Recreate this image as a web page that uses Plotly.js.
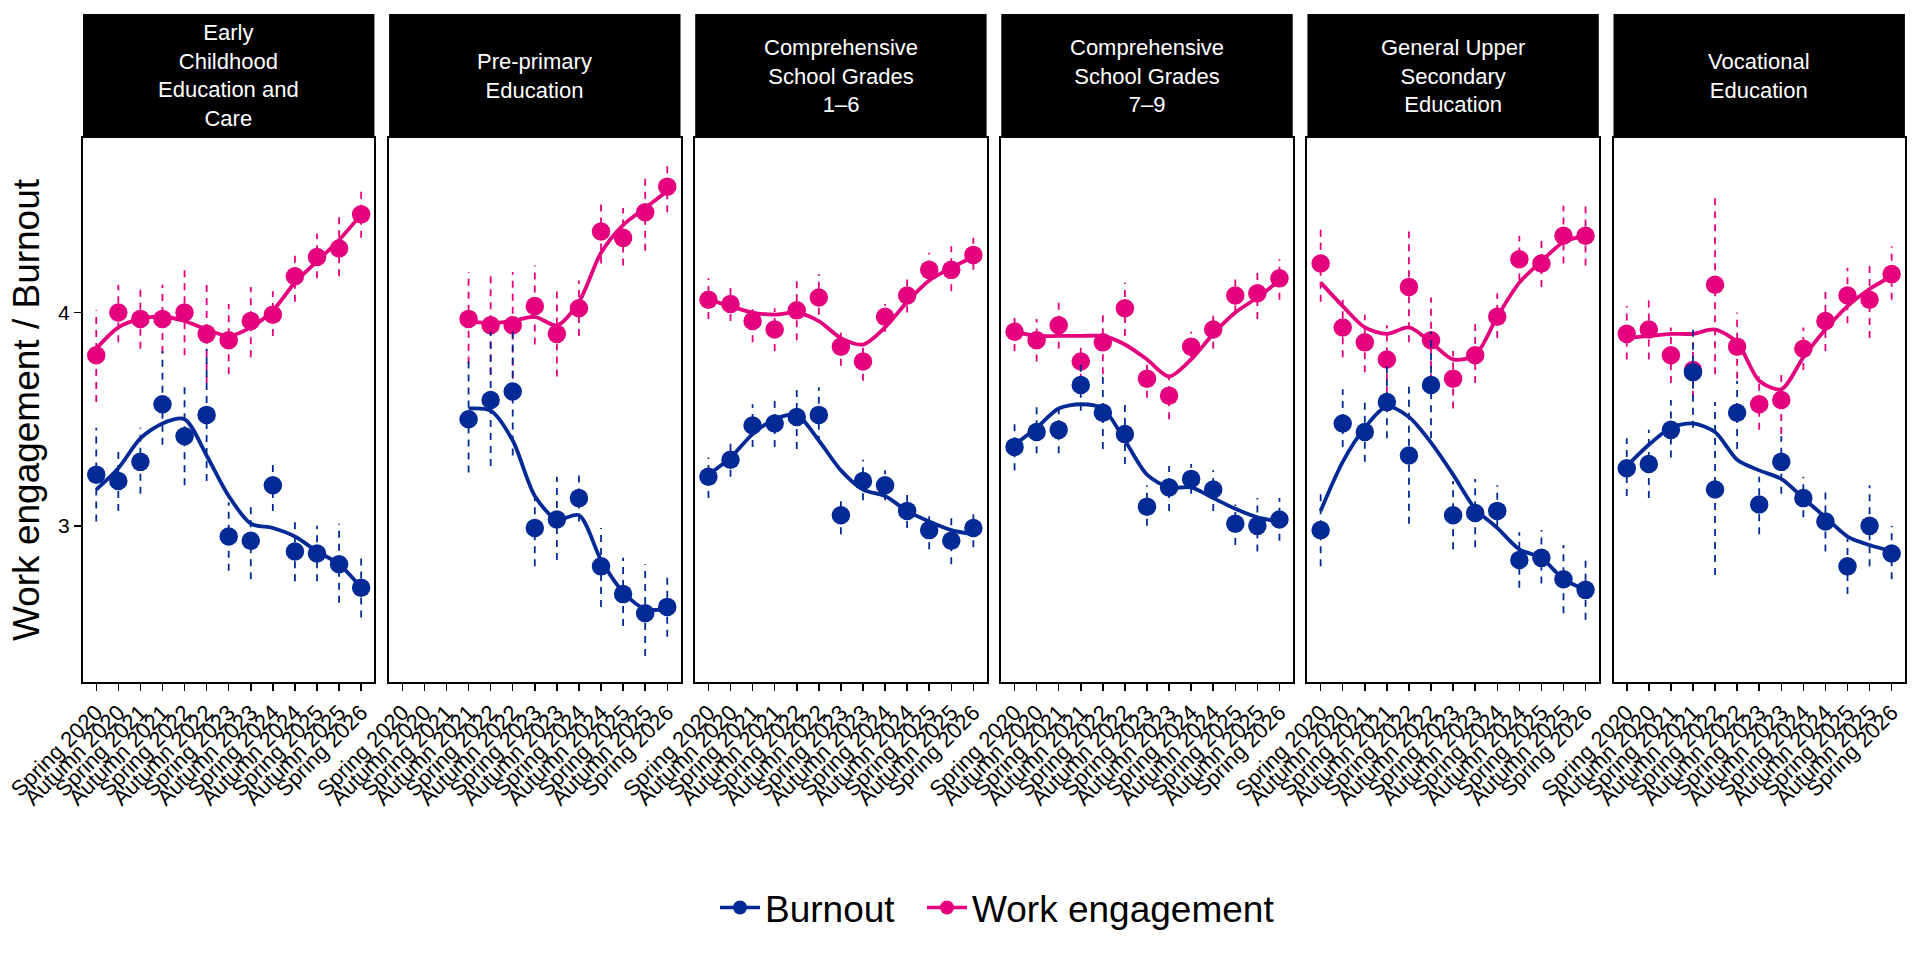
<!DOCTYPE html>
<html>
<head>
<meta charset="utf-8">
<script src="https://cdn.plot.ly/plotly-3.0.1.min.js"></script>
<style>
  html, body { margin: 0; padding: 0; background: #fff; }
  #chart { width: 1920px; height: 960px; }
</style>
</head>
<body>
<div id="chart"></div>
<script>
"use strict";

// x categories, shared by every panel
var seasons = ["Spring 2020", "Autumn 2020", "Spring 2021", "Autumn 2021", "Spring 2022", "Autumn 2022",
    "Spring 2023", "Autumn 2023", "Spring 2024", "Autumn 2024", "Spring 2025", "Autumn 2025", "Spring 2026"];

// facet titles (strip labels)
var panelNames = ["Early<br>Childhood<br>Education and<br>Care", "Pre-primary<br>Education",
    "Comprehensive<br>School Grades<br>1–6", "Comprehensive<br>School Grades<br>7–9",
    "General Upper<br>Secondary<br>Education", "Vocational<br>Education"];

var seriesNames = ["Burnout", "Work engagement"];

// Burnout: one row per panel
var burnoutMean = [
    [3.24, 3.21, 3.30, 3.57, 3.42, 3.52, 2.95, 2.93, 3.19, 2.88, 2.87, 2.82, 2.71],
    [null, null, null, 3.50, 3.59, 3.63, 2.99, 3.03, 3.13, 2.81, 2.68, 2.59, 2.62],
    [3.23, 3.31, 3.47, 3.48, 3.51, 3.52, 3.05, 3.21, 3.19, 3.07, 2.98, 2.93, 2.99],
    [3.37, 3.44, 3.45, 3.66, 3.53, 3.43, 3.09, 3.18, 3.22, 3.17, 3.01, 3.00, 3.03],
    [2.98, 3.48, 3.44, 3.58, 3.33, 3.66, 3.05, 3.06, 3.07, 2.84, 2.85, 2.75, 2.70],
    [3.27, 3.29, 3.45, 3.72, 3.17, 3.53, 3.10, 3.30, 3.13, 3.02, 2.81, 3.00, 2.87]
];
var burnoutLow = [
    [3.02, 3.07, 3.15, 3.38, 3.19, 3.21, 2.79, 2.75, 3.07, 2.74, 2.74, 2.64, 2.57],
    [null, null, null, 3.25, 3.28, 3.33, 2.81, 2.84, 3.02, 2.62, 2.53, 2.39, 2.48],
    [3.13, 3.23, 3.37, 3.37, 3.36, 3.39, 2.96, 3.12, 3.12, 2.99, 2.89, 2.82, 2.90],
    [3.26, 3.34, 3.34, 3.54, 3.36, 3.29, 3.00, 3.07, 3.15, 3.07, 2.91, 2.88, 2.93],
    [2.81, 3.37, 3.30, 3.41, 3.01, 3.41, 2.89, 2.90, 3.00, 2.71, 2.73, 2.59, 2.56],
    [3.14, 3.13, 3.32, 3.46, 2.77, 3.36, 2.96, 3.15, 3.04, 2.88, 2.68, 2.81, 2.75]
];
var burnoutHigh = [
    [3.46, 3.37, 3.46, 3.82, 3.66, 3.83, 3.11, 3.11, 3.30, 3.03, 3.00, 3.01, 2.86],
    [null, null, null, 3.80, 3.91, 3.93, 3.15, 3.23, 3.26, 2.99, 2.85, 2.82, 2.76],
    [3.32, 3.40, 3.57, 3.60, 3.66, 3.65, 3.13, 3.31, 3.26, 3.16, 3.07, 3.05, 3.08],
    [3.49, 3.56, 3.57, 3.77, 3.72, 3.57, 3.19, 3.28, 3.29, 3.26, 3.10, 3.13, 3.13],
    [3.16, 3.64, 3.59, 3.76, 3.66, 3.91, 3.21, 3.22, 3.19, 2.97, 2.98, 2.91, 2.85],
    [3.41, 3.45, 3.59, 3.93, 3.58, 3.68, 3.23, 3.42, 3.23, 3.17, 2.94, 3.19, 3.00]
];
var burnoutSmooth = [
    [3.17, 3.27, 3.41, 3.48, 3.50, 3.33, 3.14, 3.01, 2.99, 2.95, 2.88, 2.82, 2.71],
    [null, null, null, 3.55, 3.54, 3.40, 3.14, 3.03, 3.05, 2.84, 2.69, 2.61, 2.61],
    [3.24, 3.32, 3.43, 3.50, 3.52, 3.40, 3.26, 3.17, 3.14, 3.07, 3.02, 2.98, 2.96],
    [3.38, 3.46, 3.55, 3.57, 3.55, 3.40, 3.24, 3.18, 3.18, 3.13, 3.08, 3.04, 3.02],
    [3.07, 3.30, 3.46, 3.56, 3.51, 3.39, 3.24, 3.08, 2.99, 2.89, 2.85, 2.75, 2.70],
    [3.28, 3.38, 3.46, 3.48, 3.44, 3.31, 3.26, 3.22, 3.13, 3.04, 2.95, 2.91, 2.88]
];

// Work engagement: one row per panel
var engageMean = [
    [3.80, 4.00, 3.97, 3.97, 4.00, 3.90, 3.87, 3.96, 3.99, 4.17, 4.26, 4.30, 4.46],
    [null, null, null, 3.97, 3.94, 3.94, 4.03, 3.90, 4.02, 4.38, 4.35, 4.47, 4.59],
    [4.06, 4.04, 3.96, 3.92, 4.01, 4.07, 3.84, 3.77, 3.98, 4.08, 4.20, 4.20, 4.27],
    [3.91, 3.87, 3.94, 3.77, 3.86, 4.02, 3.69, 3.61, 3.84, 3.92, 4.08, 4.09, 4.16],
    [4.23, 3.93, 3.86, 3.78, 4.12, 3.87, 3.69, 3.80, 3.98, 4.25, 4.23, 4.36, 4.36],
    [3.90, 3.92, 3.80, 3.73, 4.13, 3.84, 3.57, 3.59, 3.83, 3.96, 4.08, 4.06, 4.18]
];
var engageLow = [
    [3.58, 3.86, 3.83, 3.81, 3.80, 3.67, 3.71, 3.79, 3.89, 4.05, 4.16, 4.17, 4.35],
    [null, null, null, 3.76, 3.71, 3.69, 3.85, 3.70, 3.89, 4.23, 4.22, 4.29, 4.47],
    [3.97, 3.96, 3.86, 3.82, 3.87, 3.99, 3.75, 3.68, 3.91, 4.00, 4.15, 4.10, 4.20],
    [3.82, 3.77, 3.83, 3.68, 3.71, 3.89, 3.60, 3.50, 3.78, 3.83, 4.00, 3.97, 4.06],
    [4.05, 3.79, 3.72, 3.62, 3.86, 3.68, 3.55, 3.67, 3.88, 4.15, 4.12, 4.23, 4.22],
    [3.78, 3.78, 3.67, 3.60, 3.71, 3.69, 3.45, 3.43, 3.73, 3.82, 3.95, 3.88, 4.06]
];
var engageHigh = [
    [4.01, 4.13, 4.12, 4.13, 4.20, 4.13, 4.04, 4.12, 4.10, 4.29, 4.37, 4.45, 4.58],
    [null, null, null, 4.19, 4.17, 4.19, 4.22, 4.10, 4.15, 4.53, 4.49, 4.65, 4.71],
    [4.16, 4.12, 4.04, 4.02, 4.16, 4.18, 3.92, 3.84, 4.04, 4.17, 4.28, 4.31, 4.35],
    [3.99, 3.97, 4.05, 3.86, 4.01, 4.14, 3.78, 3.70, 3.91, 4.00, 4.17, 4.21, 4.25],
    [4.40, 4.06, 3.99, 3.94, 4.38, 4.07, 3.82, 3.95, 4.09, 4.36, 4.35, 4.50, 4.50],
    [4.03, 4.06, 3.93, 3.86, 4.55, 4.00, 3.70, 3.73, 3.93, 4.11, 4.21, 4.24, 4.31]
];
var engageSmooth = [
    [3.83, 3.93, 3.97, 3.98, 3.96, 3.92, 3.89, 3.93, 4.01, 4.14, 4.24, 4.34, 4.46],
    [null, null, null, 3.96, 3.95, 3.96, 3.98, 3.94, 4.05, 4.28, 4.41, 4.49, 4.57],
    [4.06, 4.03, 4.00, 3.99, 4.00, 3.96, 3.88, 3.85, 3.93, 4.05, 4.15, 4.21, 4.26],
    [3.91, 3.89, 3.89, 3.89, 3.89, 3.85, 3.78, 3.70, 3.78, 3.90, 4.00, 4.07, 4.15],
    [4.14, 4.03, 3.93, 3.90, 3.93, 3.86, 3.78, 3.80, 3.98, 4.14, 4.24, 4.33, 4.36],
    [3.88, 3.89, 3.90, 3.90, 3.92, 3.86, 3.68, 3.64, 3.79, 3.92, 4.03, 4.11, 4.17]
];

var yTicks = [3, 4];

var BLUE = "#012a96";
var PINK = "#e5007e";
var FONT = "Liberation Sans, Arial, sans-serif";

// page geometry (pixels)
var W = 1920, H = 960;
var marginL = 83, marginR = 15, marginT = 138, marginB = 278;
var panelW = 291.4, panelStep = 306.1;
var plotW = W - marginL - marginR;
var plotH = H - marginT - marginB;
var stripTop = 14;
var legendMid = 908;

//Build the vertical dashed error bars of one series as one trace
function ErrorSegments(low, high) {
    var x = [], y = [];
    for (var i = 0; i < seasons.length; i++) {
        if (low[i] == null) continue;
        x.push(seasons[i], seasons[i], null);
        y.push(low[i], high[i], null);
    }
    return { x: x, y: y };
}

//One legend box per series, placed by its left edge in pixels
function LegendAt(leftPx) {
    return {
        orientation: "h",
        x: (leftPx - marginL) / plotW, xanchor: "left",
        y: -(legendMid - (H - marginB)) / plotH, yanchor: "middle",
        font: { size: 37, family: FONT },
        itemwidth: 40,
        bgcolor: "rgba(0,0,0,0)"
    };
}

var data = [];
var layout = {
    width: W,
    height: H,
    paper_bgcolor: "#fff",
    plot_bgcolor: "#fff",
    font: { family: FONT, color: "#000" },
    margin: { l: marginL, r: marginR, t: marginT, b: marginB },
    showlegend: true,
    legend: LegendAt(715),
    legend2: LegendAt(922),
    shapes: [],
    annotations: []
};

var series = [
    { name: seriesNames[1], color: PINK, mean: engageMean, low: engageLow, high: engageHigh, smooth: engageSmooth },
    { name: seriesNames[0], color: BLUE, mean: burnoutMean, low: burnoutLow, high: burnoutHigh, smooth: burnoutSmooth }
];

for (var p = 0; p < panelNames.length; p++) {
    var s = p == 0 ? "" : String(p + 1);
    var x0 = (p * panelStep) / plotW;
    var x1 = Math.min(1, (p * panelStep + panelW) / plotW);

    for (var k = 0; k < series.length; k++) {
        var ser = series[k];
        var seg = ErrorSegments(ser.low[p], ser.high[p]);
        data.push({
            x: seg.x, y: seg.y,
            xaxis: "x" + s, yaxis: "y" + s,
            type: "scatter", mode: "lines",
            line: { color: ser.color, width: 1.8, dash: "7px,6px" },
            hoverinfo: "skip", showlegend: false
        });
        data.push({
            x: seasons, y: ser.mean[p],
            xaxis: "x" + s, yaxis: "y" + s,
            type: "scatter", mode: "markers",
            marker: { color: ser.color, size: 18.5 },
            name: ser.name, showlegend: false
        });
        data.push({
            x: seasons, y: ser.smooth[p],
            xaxis: "x" + s, yaxis: "y" + s,
            type: "scatter", mode: "lines",
            line: { color: ser.color, width: 3.8, shape: "spline", smoothing: 0.8 },
            connectgaps: false,
            hoverinfo: "skip", showlegend: false
        });
    }

    layout["xaxis" + s] = {
        domain: [x0, x1],
        anchor: "y" + s,
        type: "category",
        categoryorder: "array",
        categoryarray: seasons,
        range: [-0.6, seasons.length - 0.4],
        tickmode: "array",
        tickvals: seasons,
        ticktext: seasons,
        tickangle: -45,
        ticks: "outside", ticklen: 7, tickwidth: 1.5, tickcolor: "#000",
        tickfont: { size: 22, color: "#000", family: FONT },
        showline: true, mirror: true, linecolor: "#000", linewidth: 2,
        showgrid: false, zeroline: false, fixedrange: true
    };
    layout["yaxis" + s] = {
        anchor: "x" + s,
        range: [2.268, 4.818],
        tickmode: "array",
        tickvals: yTicks,
        ticks: p == 0 ? "outside" : "",
        ticklen: 7, tickwidth: 1.5, tickcolor: "#000",
        showticklabels: p == 0,
        tickfont: { size: 21, color: "#000", family: FONT },
        showline: true, mirror: true, linecolor: "#000", linewidth: 2,
        showgrid: false, zeroline: false, fixedrange: true
    };
    if (p > 0) layout["yaxis" + s].matches = "y";

    //Black strip above each panel
    layout.shapes.push({
        type: "rect", xref: "paper", yref: "paper",
        x0: x0, x1: x1,
        y0: 1, y1: (H - marginB - stripTop) / plotH,
        fillcolor: "#000", line: { width: 0 }, layer: "above"
    });
    layout.annotations.push({
        xref: "paper", yref: "paper",
        x: (x0 + x1) / 2, y: (H - marginB - (stripTop + marginT) / 2) / plotH,
        xanchor: "center", yanchor: "middle",
        text: panelNames[p], showarrow: false,
        font: { size: 22, color: "#fff", family: FONT },
        align: "center"
    });
}

layout.yaxis.title = {
    text: "Work engagement / Burnout",
    font: { size: 37, color: "#000", family: FONT },
    standoff: 7
};

//Legend entries only (no data drawn)
data.push({
    x: [null], y: [null], type: "scatter", mode: "lines+markers",
    name: seriesNames[0], line: { color: BLUE, width: 3.6 }, marker: { color: BLUE, size: 14 },
    legend: "legend", showlegend: true, hoverinfo: "skip"
});
data.push({
    x: [null], y: [null], type: "scatter", mode: "lines+markers",
    name: seriesNames[1], line: { color: PINK, width: 3.6 }, marker: { color: PINK, size: 14 },
    legend: "legend2", showlegend: true, hoverinfo: "skip"
});

Plotly.newPlot("chart", data, layout, { staticPlot: true, displayModeBar: false });
</script>
</body>
</html>
